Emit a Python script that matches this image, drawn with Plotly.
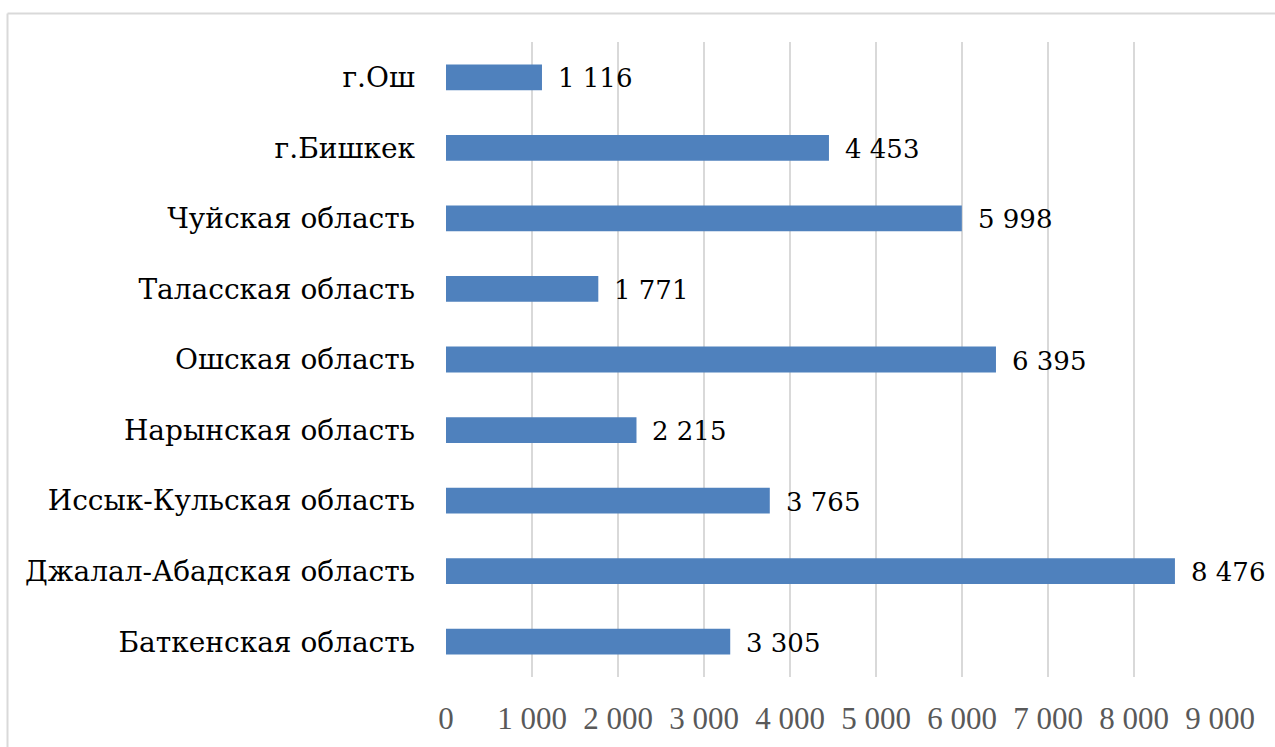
import plotly.graph_objects as go

regions = [
    "Баткенская область",
    "Джалал-Абадская область",
    "Иссык-Кульская область",
    "Нарынская область",
    "Ошская область",
    "Таласская область",
    "Чуйская область",
    "г.Бишкек",
    "г.Ош",
]
values = [3305, 8476, 3765, 2215, 6395, 1771, 5998, 4453, 1116]
x_ticks = [0, 1000, 2000, 3000, 4000, 5000, 6000, 7000, 8000, 9000]


def fmt(v):
    return f"{v:,}".replace(",", " ")


FONT = "DejaVu Serif"

fig = go.Figure(
    go.Bar(
        y=regions,
        x=values,
        orientation="h",
        marker=dict(color="#4f81bd", line=dict(width=0)),
        width=0.365,
        hoverinfo="x+y",
    )
)

# value labels just to the right of each bar
for r, v in zip(regions, values):
    fig.add_annotation(
        x=v, y=r, xref="x", yref="y",
        text=fmt(v), showarrow=False,
        xanchor="left", yanchor="middle", xshift=14, yshift=-1,
        font=dict(family=FONT, size=26, color="#000000"),
    )

fig.update_layout(
    width=1275,
    height=747,
    margin=dict(l=446, r=55, t=42, b=70),
    plot_bgcolor="white",
    paper_bgcolor="white",
    showlegend=False,
)

fig.update_xaxes(
    range=[0, 9000],
    tickvals=x_ticks,
    ticktext=[fmt(t) for t in x_ticks],
    showgrid=True,
    gridcolor="#d9d9d9",
    gridwidth=2,
    zeroline=False,
    showline=False,
    ticks="",
    ticklabelstandoff=20,
    tickfont=dict(family="Liberation Serif", size=31, color="#595959"),
)
fig.update_yaxes(
    categoryorder="array",
    categoryarray=regions,
    showgrid=False,
    zeroline=False,
    showline=False,
    ticks="",
    ticklabelstandoff=30,
    tickfont=dict(family=FONT, size=28, color="#000000"),
)

# chart frame: top and left edges
frame_x = (7.5 - 446) / 774
frame_y = (747 - 13.5 - 70) / 635
fig.add_shape(type="line", xref="paper", yref="paper",
              x0=frame_x, x1=1.2, y0=frame_y, y1=frame_y,
              line=dict(color="#d9d9d9", width=2))
fig.add_shape(type="line", xref="paper", yref="paper",
              x0=frame_x, x1=frame_x, y0=-0.2, y1=frame_y,
              line=dict(color="#d9d9d9", width=2))

fig.write_html("out.html")
